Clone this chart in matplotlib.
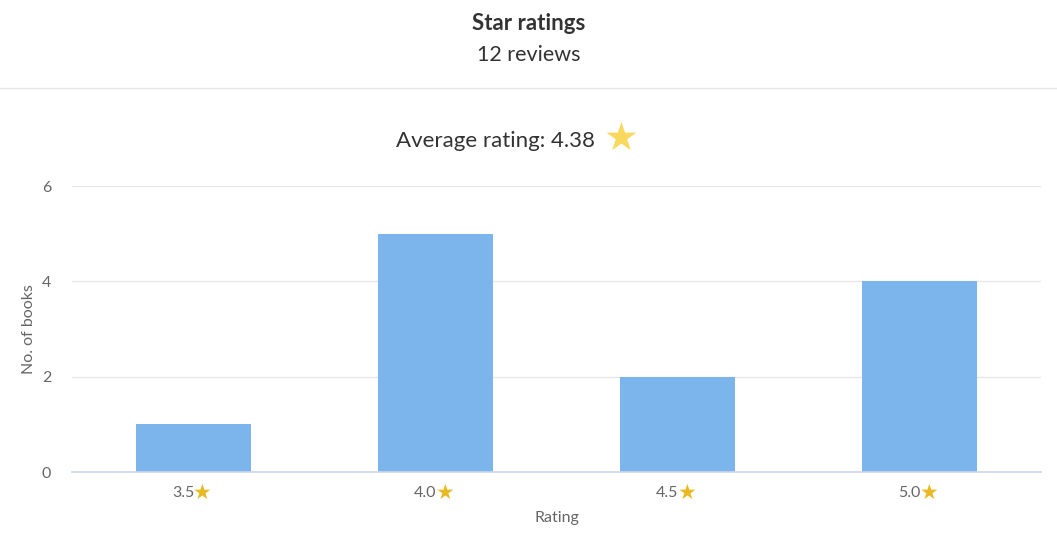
import matplotlib.pyplot as plt
from matplotlib.lines import Line2D
from matplotlib.transforms import blended_transform_factory, offset_copy

# datos
ratings = ["3.5", "4.0", "4.5", "5.0"]
counts = [1, 5, 2, 4]
n_reviews = 12
avg_rating = 4.38
y_ticks = [0, 2, 4, 6]

FONT = ["Lato", "DejaVu Sans"]
plt.rcParams["font.family"] = FONT

fig = plt.figure(figsize=(10.57, 5.35), dpi=100)
fig.patch.set_facecolor("white")

# cabecera
fig.text(0.5, 1 - 24 / 535, "Star ratings", ha="center", va="center",
         fontsize=16, fontweight="bold", color="#333333")
fig.text(0.5, 1 - 55 / 535, f"{n_reviews} reviews", ha="center", va="center",
         fontsize=15.5, color="#333333")
fig.add_artist(Line2D([0, 1], [1 - 88 / 535] * 2, color="#e6e6e6", lw=1))

fig.text(496 / 1057, 1 - 141 / 535, f"Average rating: {avg_rating:.2f}", ha="center",
         va="center", fontsize=16, color="#333333")
fig.text(621 / 1057, 1 - 139 / 535, "\u2605", ha="center", va="center",
         fontsize=28, color="#F9D85E", family="DejaVu Sans")

ax = fig.add_axes([72 / 1057, 1 - 472 / 535, 969 / 1057, 286 / 535])
x = range(len(ratings))
ax.bar(x, counts, width=0.475, color="#7cb5ec", zorder=2)
ax.set_xlim(-0.5, len(ratings) - 0.5)
ax.set_ylim(0, 6)
ax.set_yticks(y_ticks)
ax.yaxis.grid(True, color="#e6e6e6", lw=1)
ax.set_axisbelow(True)
for s in ["top", "right", "left"]:
    ax.spines[s].set_visible(False)
ax.spines["bottom"].set_color("#ccd6eb")
ax.spines["bottom"].set_linewidth(1.2)
ax.tick_params(axis="y", length=0, pad=15, labelsize=11.5, labelcolor="#666666")
ax.tick_params(axis="x", length=0, labelbottom=False)

# etiquetas del eje x con estrella
tr = blended_transform_factory(ax.transData, ax.transAxes)
for i, r in enumerate(ratings):
    ax.text(i, -0.075, r, transform=offset_copy(tr, fig=fig, x=1, y=0, units="dots"),
            ha="right", va="center", fontsize=11.5, color="#666666")
    ax.text(i, -0.072, "\u2605", transform=offset_copy(tr, fig=fig, x=0, y=0, units="dots"),
            ha="left", va="center", fontsize=15, color="#E8B923", family="DejaVu Sans")

ax.set_xlabel("Rating", fontsize=11.5, color="#666666", labelpad=28)
ax.set_ylabel("No. of books", fontsize=11.5, color="#666666", labelpad=4)

fig.savefig("out.png", dpi=100)
